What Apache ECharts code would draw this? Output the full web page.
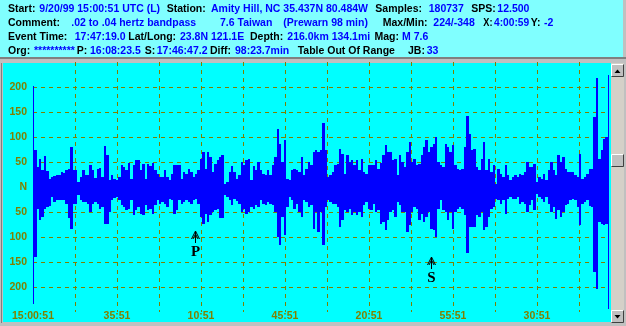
<!DOCTYPE html>
<html><head><meta charset="utf-8">
<script src="https://cdn.jsdelivr.net/npm/echarts@6/dist/echarts.min.js"></script>
<style>html,body{margin:0;padding:0;background:#c0c0c0;}#c{width:626px;height:326px;}</style>
</head><body><div id="c"></div>
<script>
// ---- data (minutes after 15:00:51, one envelope column per minute) ----
const startTime = '15:00:51';
const upper = [
202,74,40,56,34,62,33,17,21,22,24,25,31,29,34,37,81,35,34,11,21,34,24,24,44,34,19,37,39,21,82,64,14,24,17,14,21,44,41,34,49,17,44,54,54,34,47,17,47,42,49,34,27,21,21,34,21,14,27,44,
44,44,17,31,27,37,31,21,27,34,57,71,37,71,61,31,47,54,61,64,7,11,31,42,31,17,24,51,44,54,57,14,42,34,51,34,27,24,35,24,44,61,117,87,51,94,17,14,34,37,34,31,61,24,37,51,44,71,74,71,
74,129,74,21,24,31,44,47,77,67,27,64,51,54,44,54,34,57,31,27,44,44,44,54,37,49,64,84,71,71,54,57,24,64,51,41,71,91,51,57,44,47,64,81,94,71,81,87,101,51,44,41,87,81,71,84,44,37,34,37,
81,142,107,74,77,41,34,57,91,34,57,31,44,7,37,27,21,44,24,14,21,24,21,27,24,31,51,41,41,47,11,21,17,27,14,34,51,34,24,64,51,61,37,31,31,31,24,21,67,17,21,27,37,37,141,218,57,74,97,101,224];
const lower = [
-234,-139,-43,-66,-59,-43,-39,-38,-19,-29,-26,-25,-26,-26,-33,-61,-83,-33,-33,-16,-26,-29,-29,-34,-49,-33,-29,-33,-43,-39,-73,-73,-49,-26,-21,-19,-26,-36,-39,-46,-43,-26,-56,-46,-39,-53,-56,-36,-46,-43,-53,-36,-26,-33,-29,-33,-39,-23,-26,-53,
-46,-26,-33,-29,-26,-29,-33,-26,-23,-33,-59,-73,-53,-69,-56,-49,-46,-43,-61,-61,-16,-19,-26,-36,-23,-27,-33,-49,-43,-53,-49,-39,-43,-36,-39,-26,-33,-36,-29,-33,-36,-49,-99,-116,-59,-96,-39,-19,-26,-43,-33,-49,-59,-26,-29,-39,-36,-83,-49,-89,
-49,-116,-39,-26,-29,-33,-33,-39,-79,-66,-46,-49,-43,-56,-49,-56,-49,-59,-36,-29,-43,-46,-33,-49,-46,-73,-69,-86,-66,-49,-46,-59,-29,-36,-49,-49,-89,-76,-49,-39,-43,-66,-53,-69,-59,-49,-83,-86,-99,-43,-26,-46,-49,-66,-49,-83,-49,-43,-39,-43,
-56,-131,-79,-79,-79,-56,-59,-49,-86,-79,-59,-43,-39,-23,-26,-33,-26,-53,-23,-19,-23,-23,-19,-33,-29,-33,-49,-36,-26,-46,-13,-19,-23,-29,-19,-33,-49,-39,-63,-46,-59,-49,-36,-33,-26,-23,-26,-39,-76,-33,-29,-26,-38,-39,-169,-204,-69,-73,-76,-73,-244];
const phaseNames = ['P','S'];
const phaseTimes = ['16:08:23.5','17:46:47.2'];
const phaseLevels = [-88,-140];
const yTicks = [-200,-150,-100,-50,0,50,100,150,200];

// header lines: [x, text, isValue]
const header = [
 [[8,'Start:',0],[39.3,'9/20/99 15:00:51 UTC (L)',1],[166.7,'Station:',0],[211,'Amity Hill, NC 35.437N 80.484W',1],[375.3,'Samples:',0],[428.7,'180737',1],[471.3,'SPS:',0],[497.3,'12.500',1]],
 [[8,'Comment:',0],[71.3,'.02 to .04 hertz bandpass',1],[220,'7.6 Taiwan',1],[283.3,'(Prewarn 98 min)',1],[382.7,'Max/Min:',0],[433.3,'224/-348',1],[483.3,'X:',0],[494,'4:00:59',1],[530.7,'Y:',0],[544,'-2',1]],
 [[8,'Event Time:',0],[74.7,'17:47:19.0',1],[128.3,'Lat/Long:',0],[180,'23.8N 121.1E',1],[250,'Depth:',0],[287.3,'216.0km 134.1mi',1],[374.5,'Mag:',0],[402,'M 7.6',1]],
 [[8,'Org:',0],[34,'**********',1],[76.7,'P:',0],[90,'16:08:23.5',1],[144.7,'S:',0],[156.7,'17:46:47.2',1],[210,'Diff:',0],[235,'98:23.7min',1],[297.7,'Table Out Of Range',0],[408,'JB:',0],[426.7,'33',1]]
];
const headerY = [9,23.3,37.2,51.3];

function toSec(s){const p=s.split(':').map(Number);return p[0]*3600+p[1]*60+p[2];}
const t0 = toSec(startTime);
const envelope = upper.map((h,i)=>[i, lower[i], h]);
const phases = phaseTimes.map((s,i)=>[(toSec(s)-t0)/60, phaseLevels[i], phaseNames[i]]);

const OLIVE = '#808000';
const FONT = '"Liberation Sans", Arial, sans-serif';
const HFONT = 'bold 10.5px ' + FONT;

const graphics = [
  {type:'rect', z:-10, shape:{x:0,y:0,width:623,height:57}, style:{fill:'#80ffff'}},
  {type:'rect', z:-10, shape:{x:0,y:57,width:626,height:2}, style:{fill:'#808080'}},
  {type:'rect', z:-10, shape:{x:3,y:63,width:608,height:259}, style:{fill:'#00ffff'}},
  {type:'rect', z:-10, shape:{x:1,y:63,width:1,height:260}, style:{fill:'#808080'}},
  {type:'rect', shape:{x:611,y:63,width:13,height:260}, style:{fill:'#d4d0c8'}},
];
function button(x,y,w,h){
  graphics.push({type:'rect', shape:{x:x,y:y,width:w,height:h}, style:{fill:'#c0c0c0'}});
  graphics.push({type:'polyline', shape:{points:[[x+0.5,y+h-0.5],[x+0.5,y+0.5],[x+w-0.5,y+0.5]]}, style:{stroke:'#ffffff',fill:null,lineWidth:1}});
  graphics.push({type:'polyline', shape:{points:[[x+0.5,y+h-0.5],[x+w-0.5,y+h-0.5],[x+w-0.5,y+0.5]]}, style:{stroke:'#404040',fill:null,lineWidth:1}});
}
button(611,64,13,13);
graphics.push({type:'polygon', shape:{points:[[614.5,73],[620.5,73],[617.5,69.5]]}, style:{fill:'#000'}});
button(611,154,13,13);
button(611,310,13,13);
graphics.push({type:'polygon', shape:{points:[[614.5,315],[620.5,315],[617.5,318.5]]}, style:{fill:'#000'}});

const mctx = document.createElement('canvas').getContext('2d');
mctx.font = HFONT;
header.forEach((line,li)=>{
  line.forEach((seg,si)=>{
    const w = mctx.measureText(seg[1]).width;
    let sx = 1;
    if (si < line.length-1) {
      const avail = line[si+1][0] - seg[0] - 1.5;
      if (w > avail) sx = Math.max(0.85, avail / w);
    }
    graphics.push({type:'text', x:seg[0], y:headerY[li], scaleX:sx, originX:0, originY:0,
      style:{text:seg[1], fill: seg[2]?'#0000ff':'#000000', font:HFONT, textVerticalAlign:'middle', textAlign:'left'}});
  });
});

const chart = echarts.init(document.getElementById('c'), null, {renderer:'canvas'});
chart.setOption({
  animation:false,
  backgroundColor:'transparent',
  graphic: graphics,
  grid:{left:33, right:17, top:62, bottom:14, containLabel:false},
  xAxis:{type:'value', min:0, max:240, interval:17.5,
    axisLine:{show:false}, axisTick:{show:false},
    splitLine:{show:true, showMinLine:false, showMaxLine:false, lineStyle:{color:OLIVE, type:[4,4], width:1}},
    axisLabel:{showMaxLabel:false, color:OLIVE, fontWeight:'bold', fontSize:10.5, fontFamily:FONT, margin:4, verticalAlign:'middle',
      formatter:function(v){
        if (Math.abs(v % 35) > 1e-6) return '';
        const s = t0 + v*60; const h = Math.floor(s/3600)%24, m = Math.floor(s/60)%60, sc = s%60;
        const pad = n=>String(n).padStart(2,'0');
        return v===0 ? pad(h)+':'+pad(m)+':'+pad(sc) : pad(m)+':'+pad(sc);
      }}},
  yAxis:{type:'value', min:-250, max:250, interval:50,
    axisLine:{show:false}, axisTick:{show:false},
    splitLine:{show:true, showMinLine:false, showMaxLine:false, lineStyle:{color:OLIVE, type:[4,4], width:1}},
    axisLabel:{showMinLabel:false, showMaxLabel:false, color:OLIVE, fontWeight:'bold', fontSize:10.5, fontFamily:FONT, margin:6,
      formatter:function(v){ if (yTicks.indexOf(v)<0) return ''; return v===0?'N':String(Math.abs(v)); }}},
  series:[
    {type:'custom', clip:true, data:envelope, z:3,
      renderItem:function(params, api){
        const t=api.value(0), lo=api.value(1), hi=api.value(2);
        const p1=api.coord([t-0.5, hi]), p2=api.coord([t+0.5, lo]);
        const x1=Math.round(p1[0]), x2=Math.max(Math.round(p2[0]), x1+1);
        const y1=Math.round(p1[1]), y2=Math.round(p2[1]);
        return {type:'rect', shape:{x:x1, y:y1, width:x2-x1, height:y2-y1}, style:{fill:'#0000ff'}};
      }},
    {type:'custom', data:phases, z:4,
      renderItem:function(params, api){
        const p=api.coord([api.value(0), api.value(1)]);
        const x=Math.round(p[0])+0.5, y=Math.round(p[1]);
        const name = phases[params.dataIndex][2];
        return {type:'group', children:[
          {type:'line', shape:{x1:x,y1:y,x2:x,y2:y+12}, style:{stroke:'#000',lineWidth:1}},
          {type:'polyline', shape:{points:[[x-4,y+8],[x,y],[x+4,y+8]]}, style:{stroke:'#000',fill:null,lineWidth:1}},
          {type:'polyline', shape:{points:[[x-2.5,y+8],[x,y+3],[x+2.5,y+8]]}, style:{stroke:'#000',fill:null,lineWidth:1}},
          {type:'text', x:x, y:y+21, style:{text:name, fill:'#000', font:'bold 15px "Liberation Serif", serif', textAlign:'center', textVerticalAlign:'middle'}}
        ]};
      }}
  ]
});
</script></body></html>
